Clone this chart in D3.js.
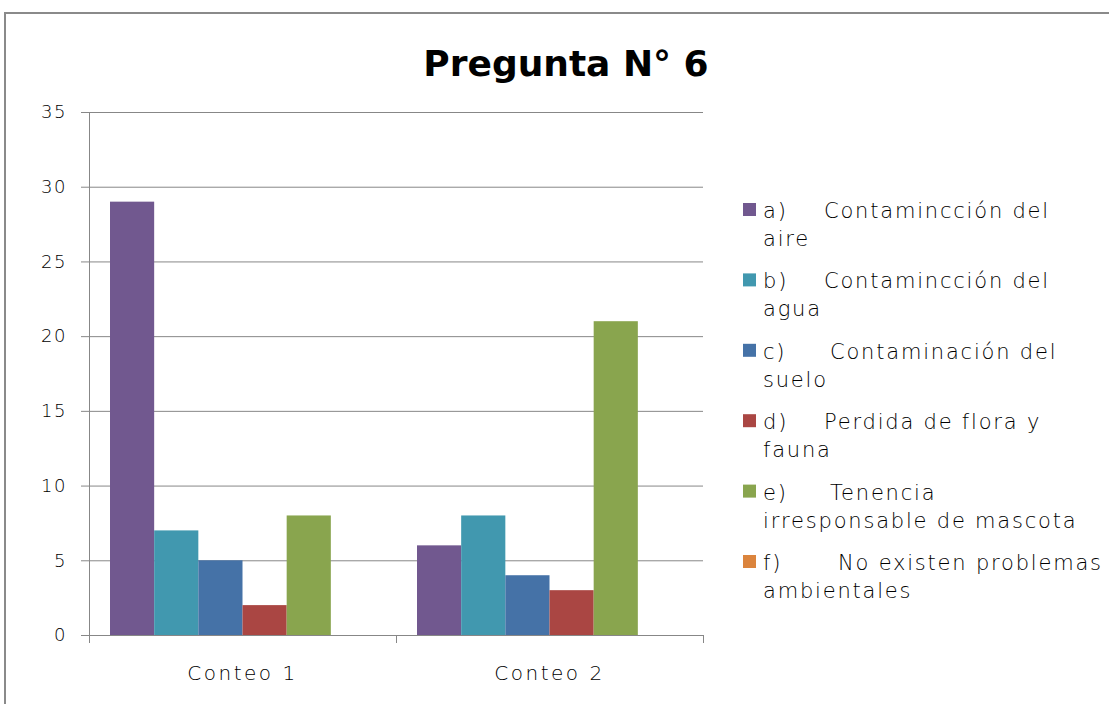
<!DOCTYPE html>
<html>
<head>
<meta charset="utf-8">
<script src="https://cdn.jsdelivr.net/npm/d3@7"></script>
<style>
  body { margin: 0; background: #fff; }
  text { font-family: "DejaVu Sans", sans-serif; font-weight: 200; fill: #000; }
</style>
</head>
<body>
<div id="chart"></div>
<script>
var categories = ["Conteo 1", "Conteo 2"];
var seriesNames = ["a)", "b)", "c)", "d)", "e)", "f)"];
var seriesText = [
  ["Contamincción del", "aire"],
  ["Contamincción del", "agua"],
  ["Contaminación del", "suelo"],
  ["Perdida de flora y", "fauna"],
  ["Tenencia", "irresponsable de mascota"],
  ["No existen problemas", "ambientales"]
];
var seriesValues = [
  [29, 6],
  [7, 8],
  [5, 4],
  [2, 3],
  [8, 21],
  [0, 0]
];
var colors = ["#71588F", "#4198AF", "#4572A7", "#AA4643", "#89A54E", "#DB843D"];
var yTicks = [0, 5, 10, 15, 20, 25, 30, 35];

var W = 1109, H = 704;
var margin = {top: 112, left: 89},
    width = 703 - 89,
    height = 635 - 112;

var svg = d3.select("#chart").append("svg").attr("width", W).attr("height", H);

// outer frame
svg.append("path")
    .attr("d", "M5," + H + "V13H" + W)
    .attr("fill", "none")
    .attr("stroke", "#8a8a8a")
    .attr("stroke-width", 2);

svg.append("text")
    .attr("x", 566).attr("y", 76)
    .attr("text-anchor", "middle")
    .style("font-size", "36px")
    .style("font-weight", "bold")
    .text("Pregunta N° 6");

var x0 = d3.scaleBand().domain(categories).range([0, width]).paddingInner(0).paddingOuter(0);
var x1 = d3.scaleBand().domain(d3.range(seriesNames.length))
    .range([21, x0.bandwidth() - 21]);
var y = d3.scaleLinear().domain([0, 35]).range([height, 0]);

var g = svg.append("g").attr("transform", "translate(" + margin.left + "," + margin.top + ")");

// gridlines
g.selectAll(".grid").data(yTicks.slice(1)).enter().append("line")
    .attr("x1", 0).attr("x2", width)
    .attr("y1", function(d) { return y(d) + 0.5; })
    .attr("y2", function(d) { return y(d) + 0.5; })
    .attr("stroke", "#878787").attr("stroke-width", 1);

// bars
categories.forEach(function(c, ci) {
  seriesValues.forEach(function(vals, si) {
    g.append("rect")
        .attr("x", x0(c) + x1(si))
        .attr("y", y(vals[ci]))
        .attr("width", x1.bandwidth())
        .attr("height", height - y(vals[ci]))
        .attr("fill", colors[si]);
  });
});

// y axis
var yAxis = d3.axisLeft(y).tickValues(yTicks).tickSize(8).tickPadding(14);
var ya = g.append("g").call(yAxis);
ya.select(".domain").attr("stroke", "#878787");
ya.selectAll(".tick line").attr("stroke", "#878787");
ya.selectAll("text").style("font-size", "18px").attr("font-family", null).attr("fill", "#000")
    .style("letter-spacing", "1.5px");

// x axis
var xa = g.append("g").attr("transform", "translate(0," + height + ")");
xa.append("line").attr("x1", -8).attr("x2", width).attr("y1", 0.5).attr("y2", 0.5)
    .attr("stroke", "#878787");
xa.selectAll(".xt").data(d3.range(categories.length + 1)).enter().append("line")
    .attr("x1", function(d) { return d * x0.bandwidth() + 0.5; })
    .attr("x2", function(d) { return d * x0.bandwidth() + 0.5; })
    .attr("y1", 0).attr("y2", 8)
    .attr("stroke", "#878787");
xa.selectAll(".xl").data(categories).enter().append("text")
    .attr("x", function(d) { return x0(d) + x0.bandwidth() / 2; })
    .attr("y", 45)
    .attr("text-anchor", "middle")
    .style("font-size", "20px")
    .style("letter-spacing", "2.5px")
    .text(function(d) { return d; });

// legend
var lg = svg.append("g").attr("transform", "translate(743,210)");
seriesNames.forEach(function(s, i) {
  var row = lg.append("g").attr("transform", "translate(0," + (i * 70.4) + ")");
  row.append("rect").attr("x", 0).attr("y", -7).attr("width", 13).attr("height", 13)
      .attr("fill", colors[i]);
  var t = row.append("text").style("font-size", "21px").style("letter-spacing", "1.8px");
  t.append("tspan").attr("x", 20).attr("y", 8).text(s);
  t.append("tspan").attr("x", i == 5 ? 95 : (i == 2 || i == 4 ? 87 : 81)).attr("y", 8).text(seriesText[i][0]);
  t.append("tspan").attr("x", 20).attr("y", 36).text(seriesText[i][1]);
});
</script>
</body>
</html>
